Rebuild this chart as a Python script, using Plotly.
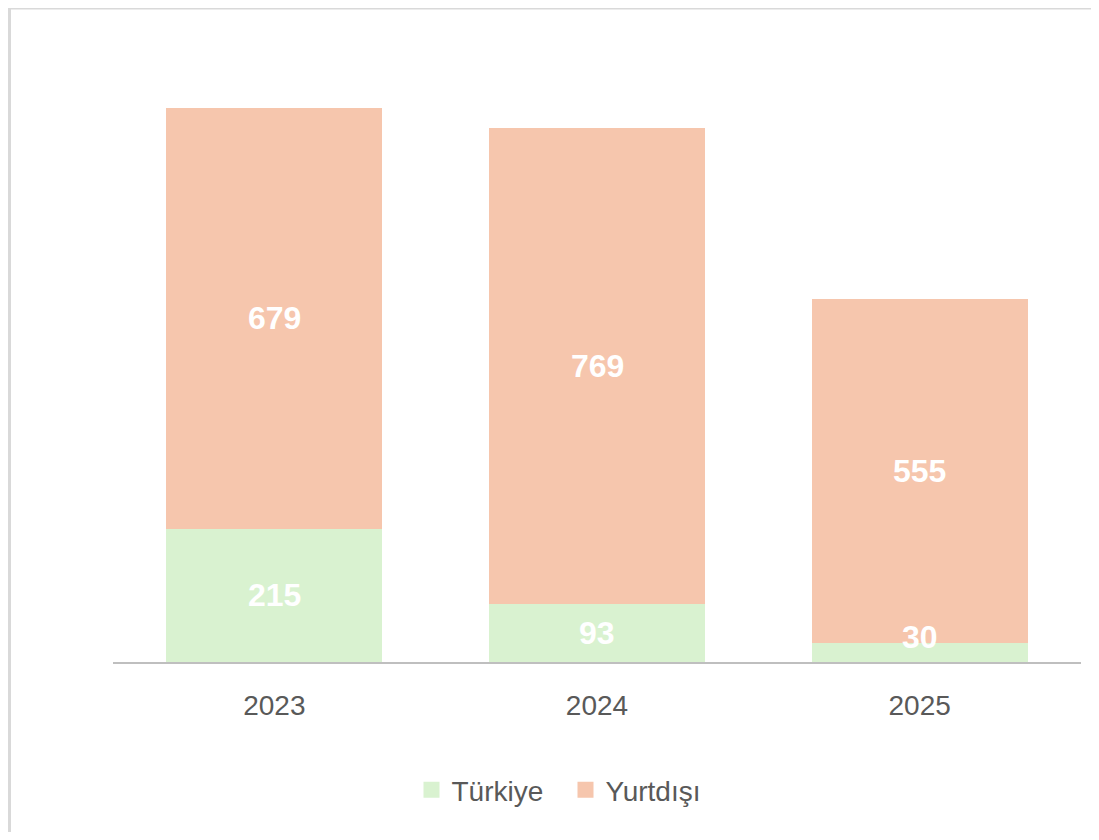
import plotly.graph_objects as go

years = ["2023", "2024", "2025"]
turkiye = [215, 93, 30]
yurtdisi = [679, 769, 555]
series_names = ["Türkiye", "Yurtdışı"]

colors = {"Türkiye": "#D9F2D0", "Yurtdışı": "#F6C6AD"}
FONT = "Liberation Sans, Arial, sans-serif"

OFF = 8  # page body margin
W, H = 1099 - 2 * OFF, 840 - 2 * OFF
ML, MR, MT, MB = 113 - OFF, W - (1081 - OFF), 42 - OFF, H - (662 - OFF)
plot_w = W - ML - MR
plot_h = H - MT - MB
y_max = 1000

fig = go.Figure()
for name, vals in zip(series_names, (turkiye, yurtdisi)):
    fig.add_trace(go.Bar(name=name, x=years, y=vals, showlegend=False,
                         marker=dict(color=colors[name], line=dict(width=0))))
# legend entries with larger square keys
for name in series_names:
    fig.add_trace(go.Scatter(name=name, x=[years[0]], y=[None], mode="markers",
                             marker=dict(symbol="square", size=19, color=colors[name])))

# data labels, centred in each segment (lifted off the axis when the segment is thin)
min_center_units = 25 / plot_h * y_max
annotations = []
for i, yr in enumerate(years):
    base = 0
    for vals in (turkiye, yurtdisi):
        v = vals[i]
        yc = base + v / 2
        if v / y_max * plot_h < 30:
            yc = base + min_center_units
        annotations.append(dict(x=i, y=yc, xref="x", yref="y", text=str(v), showarrow=False,
                                font=dict(family=FONT, size=32, color="white", weight="bold")))
        base += v

def px_to_paper_x(px):
    return (px - OFF - ML) / plot_w

def px_to_paper_y(py):
    return (H - MB - (py - OFF)) / plot_h

fig.update_layout(
    width=W, height=H,
    margin=dict(l=ML, r=MR, t=MT, b=MB),
    barmode="stack",
    bargap=0.33,
    plot_bgcolor="white",
    paper_bgcolor="white",
    font=dict(family=FONT, color="#595959"),
    xaxis=dict(type="category", range=[-0.5, len(years) - 0.5], showgrid=False, showline=True,
               linecolor="#BFBFBF", linewidth=2,
               ticks="", tickfont=dict(size=28, color="#595959", family=FONT),
               ticklabelstandoff=17, zeroline=False, fixedrange=True),
    yaxis=dict(range=[0, y_max], visible=False, showgrid=False, zeroline=False, fixedrange=True),
    legend=dict(orientation="h", x=px_to_paper_x(411.5), xanchor="left",
                y=px_to_paper_y(790), yanchor="middle",
                font=dict(size=28, color="#595959", family=FONT),
                itemsizing="trace", traceorder="normal", entrywidth=109),
    annotations=annotations,
    shapes=[dict(type="rect", xref="paper", yref="paper",
                 x0=px_to_paper_x(9.5), x1=px_to_paper_x(1115),
                 y0=px_to_paper_y(845), y1=px_to_paper_y(OFF),
                 line=dict(color="#D9D9D9", width=3), fillcolor="rgba(0,0,0,0)", layer="below")],
)

fig.write_html("out.html")
